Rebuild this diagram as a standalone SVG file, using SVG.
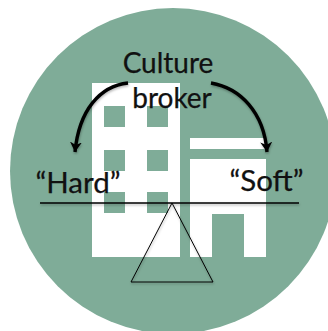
<svg xmlns="http://www.w3.org/2000/svg" width="328" height="331" viewBox="0 0 328 331">
<style>
.t{font-family:"Lato","Open Sans",sans-serif;font-size:28px;fill:#111;text-anchor:middle;stroke:#111;stroke-width:0.25}
.q{font-size:29.5px}
.w{fill:#fff}
.g{fill:#7fac98}
.c{fill:none;stroke:#000;stroke-width:3.4}
</style>
<defs>
<marker id="a" markerUnits="userSpaceOnUse" markerWidth="14" markerHeight="14" refX="10" refY="6" orient="auto"><path d="M0 0L10 6L0 12L3 6Z" fill="#000"/></marker>
<filter id="s" x="-5%" y="-5%" width="110%" height="110%"><feDropShadow dx="0.5" dy="1.5" stdDeviation="1" flood-color="#000" flood-opacity="0.3"/></filter>
</defs>
<circle id="disc" class="g" cx="173" cy="171" r="163"/>
<g id="building">
<rect class="w" x="92" y="83" width="88" height="174"/>
<rect class="g" x="104" y="106" width="21" height="21"/>
<rect class="g" x="147" y="106" width="21" height="21"/>
<rect class="g" x="104" y="150" width="21" height="21"/>
<rect class="g" x="147" y="150" width="21" height="21"/>
<rect class="g" x="104" y="192" width="21" height="21"/>
<rect class="g" x="147" y="192" width="21" height="21"/>
<rect class="w" x="190" y="138" width="76" height="11"/>
<path class="w" d="M190 159H266V257H244V214H212V257H190Z"/>
</g>
<g id="connectors" filter="url(#s)">
<path class="c" d="M128 83C100 86 79 110 75 152" marker-end="url(#a)"/>
<path class="c" d="M211 83C240 88 264 112 267 152" marker-end="url(#a)"/>
<path d="M40 203H299" fill="none" stroke="#000" stroke-width="1.6"/>
<path d="M172 203L213 282H131Z" fill="none" stroke="#000" stroke-width="1"/>
</g>
<g id="culture-broker"><text class="t" x="168" y="73">Culture</text><text class="t" x="172" y="108">broker</text></g>
<g id="hard"><text class="t q" x="78" y="193">“Hard”</text></g>
<g id="soft"><text class="t q" x="266.500" y="191">“Soft”</text></g>
</svg>
